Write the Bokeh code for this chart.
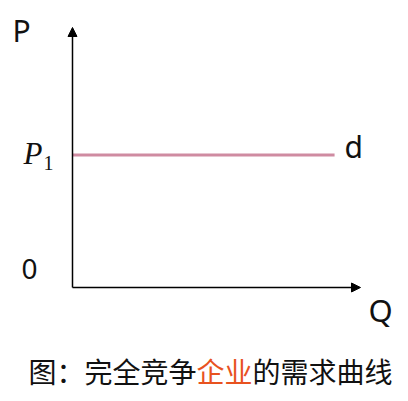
from bokeh.plotting import figure
from bokeh.models import Range1d, Arrow, NormalHead, Label, ColumnDataSource
from bokeh.embed import file_html
from bokeh.resources import INLINE

# data (economic units)
q_axis_max = 10.0
p_axis_max = 10.0
p1 = 5.1
q_line = [0.0, 9.1]
p_line = [p1, p1]
caption_parts = ["图：完全竞争", "企业", "的需求曲线"]
caption_colors = ["#111111", "#E8521F", "#111111"]

W, H = 408, 401
p = figure(width=W, height=H, output_backend="svg", toolbar_location=None,
           x_range=Range1d(-2.5, 11.667), y_range=Range1d(-4.385, 11.038),
           min_border=0, background_fill_color="white", border_fill_color="white")
p.axis.visible = False
p.grid.visible = False
p.outline_line_color = None

# demand curve d
src = ColumnDataSource(dict(q=q_line, p=p_line))
p.line("q", "p", source=src, line_color="#CF8BA1", line_width=3)

# axes with arrow heads
for (x0, y0, x1, y1) in [(0, 0, 0, p_axis_max), (0, 0, q_axis_max, 0)]:
    p.add_layout(Arrow(x_start=x0, y_start=y0, x_end=x1, y_end=y1,
                       line_color="black", line_width=1.5,
                       end=NormalHead(size=9, fill_color="black", line_color="black", line_width=1)))

SHIFT = 12

def lab(text, x, y, size, font="Noto Sans", style="normal", color="#111111"):
    p.add_layout(Label(x=x, y=H - (y - SHIFT), x_units="screen", y_units="screen", text=text,
                       text_font=font, text_font_size=f"{size}px", text_font_style=style,
                       text_color=color, text_baseline="alphabetic", text_align="left"))

lab("P", 12, 42, 30)
lab("P", 23, 165, 31, font="Liberation Serif", style="italic")
lab("1", 43, 174, 20, font="Liberation Serif")
lab("d", 344, 158, 30)
lab("0", 21, 280, 28)
lab("Q", 368, 321, 31)

x = 28
for t, c in zip(caption_parts, caption_colors):
    lab(t, x, 382, 28, font="Noto Sans CJK SC", color=c)
    x += 28 * len(t)

open("out.html", "w").write(file_html(p, INLINE))
